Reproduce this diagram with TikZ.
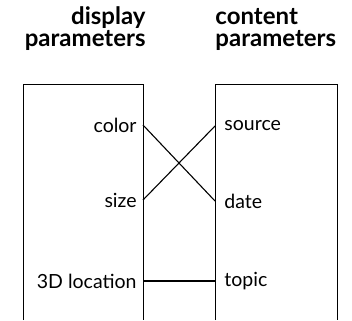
\documentclass[tikz,border=0pt]{standalone}
\usepackage{fontspec}
\setmainfont{Lato}
\tikzset{every picture/.style={line width=0.9pt}}
\tikzset{
	head/.style={font=\fontsize{24}{22}\selectfont\bfseries, inner sep=0pt},
	param/.style={font=\fontsize{19.5}{21}\selectfont, inner xsep=6pt, inner ysep=0pt},
	link/.style={line width=1.1pt}}

\begin{document}
\begin{tikzpicture}[x=1pt,y=1pt,yscale=-1,xscale=1]
	\useasboundingbox (0,0) rectangle (352,320);

	%Shape: open box, display side
	\draw   (23,320) -- (23,84) -- (143,84) -- (143,320) ;
	%Shape: open box, content side
	\draw   (215,320) -- (215,84) -- (337,84) -- (337,320) ;

	% Text Node
	\node (dhead) [head, anchor=base east, align=right] at (146,47) {display\\parameters};
	% Text Node
	\node (chead) [head, anchor=base west, align=left] at (215,47) {content\\parameters};

	% Text Node
	\node (color) [param, anchor=east] at (143,125) {color};
	% Text Node
	\node (size) [param, anchor=east] at (143,200) {size};
	% Text Node
	\node (loc) [param, anchor=east] at (143,281) {3D location};
	% Text Node
	\node (source) [param, inner xsep=9pt, anchor=west] at (215,126) {source};
	% Text Node
	\node (date) [param, inner xsep=9pt, anchor=west] at (215,201) {date};
	% Text Node
	\node (topic) [param, inner xsep=9pt, anchor=west] at (215,281) {topic};

	%Straight Lines
	\draw [link] (color.east) -- (date.west) ;
	\draw [link] (size.east) -- (source.west) ;
	\draw [link] (loc.east) -- (topic.west) ;

\end{tikzpicture}
\end{document}
